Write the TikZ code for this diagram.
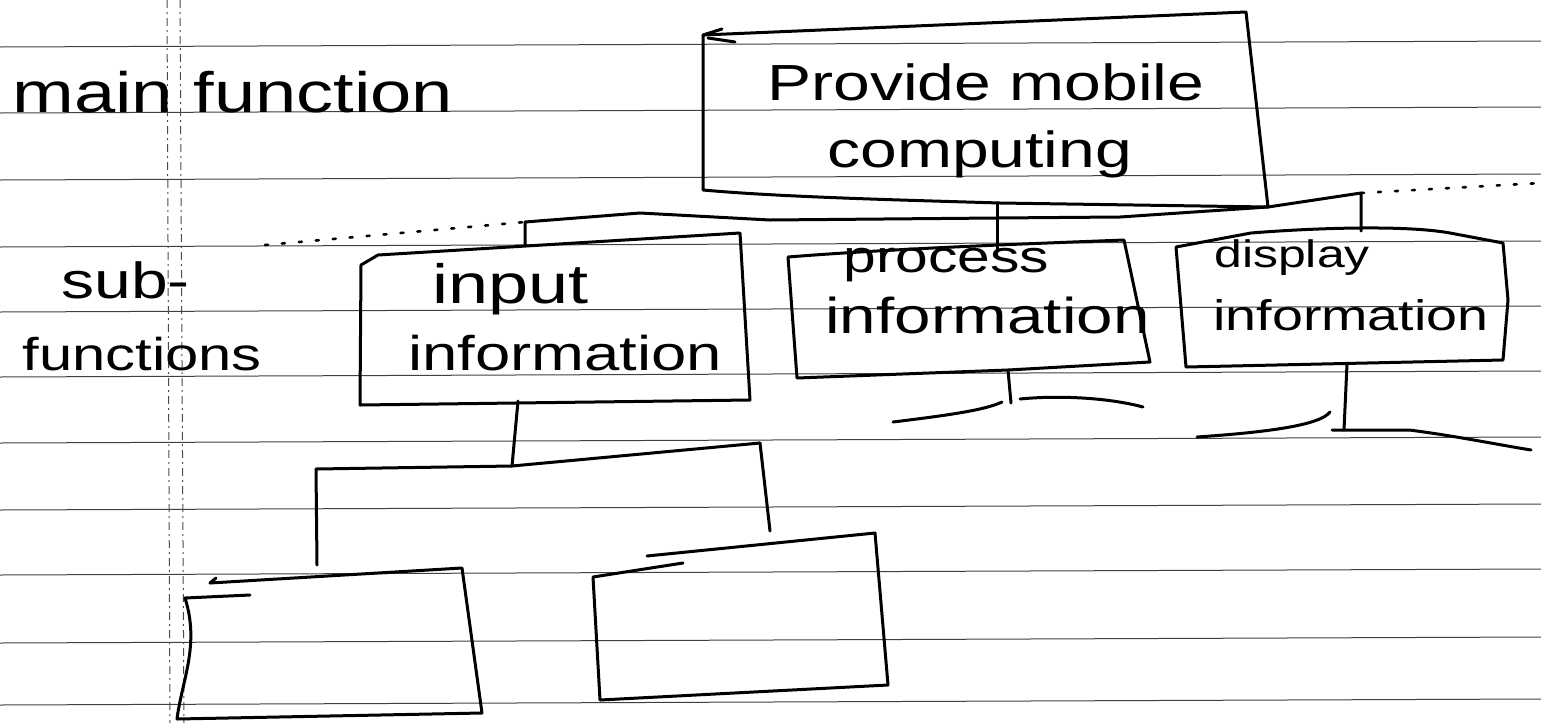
\documentclass[tikz,border=0pt]{standalone}
\usepackage{fontspec}
\setmainfont{Liberation Sans}[FakeStretch=1.3]
\begin{document}
\begin{tikzpicture}[x=0.5pt,y=-0.5pt,
  rule/.style={line width=0.5pt, black!75},
  margin/.style={line width=0.5pt, black!70, dash pattern=on 4pt off 2pt on 1pt off 2pt},
  boxline/.style={line width=1.5pt, line join=round, line cap=round},
  wire/.style={line width=1.5pt, line join=round, line cap=round},
  dotline/.style={line width=1.3pt, dash pattern=on 1.5pt off 7pt, line cap=round},
  hw/.style={anchor=base west, inner sep=0pt, font=\fontsize{#1}{#1}\selectfont},
]
\useasboundingbox (0,0) rectangle (1541,723);
% ruled paper
\foreach \y in {47,113,180,247,312,377,443,510,575,643,705}
  \draw[rule] (0,\y) -- (1541,\y-6);
\draw[margin] (167,0) -- (170,723);
\draw[margin] (180,0) -- (184,723);

% ---- box corners
\coordinate (mTL) at (703,35); \coordinate (mTR) at (1246,12);
\coordinate (mBR) at (1268,207); \coordinate (mBL) at (703,190);
\coordinate (iTL) at (361,265); \coordinate (iTR) at (740,233);
\coordinate (iBR) at (750,400); \coordinate (iBL) at (360,405);
\coordinate (pTL) at (788,257); \coordinate (pTR) at (1124,240);
\coordinate (pBR) at (1150,362); \coordinate (pBL) at (797,378);
\coordinate (dTL) at (1176,247); \coordinate (dTR) at (1503,243);
\coordinate (dBR) at (1503,360); \coordinate (dBL) at (1186,367);
\coordinate (aTL) at (210,583); \coordinate (aTR) at (462,568);
\coordinate (aBR) at (482,713); \coordinate (aBL) at (177,719);
\coordinate (bTL) at (593,577); \coordinate (bTR) at (875,533);
\coordinate (bBR) at (888,685); \coordinate (bBL) at (600,700);

% main box
\draw[boxline] (mTR) -- (mTL) -- (mBL) .. controls (780,197) and (900,200) .. (1000,203) -- (mBR) -- cycle;
\draw[boxline] (mTL) -- (722,29) (708,38) -- (735,42);
% input information box
\draw[boxline] (iTL) -- (378,255) -- (iTR) -- (iBR) -- (iBL) -- cycle;
% process information box
\draw[boxline] (pTL) .. controls (900,248) and (1050,243) .. (pTR) -- (pBR) -- (1008,370) -- (pBL) -- cycle;
% display information box
\draw[boxline] (dTL) -- (1251,233) .. controls (1300,229) and (1400,224) .. (1450,233) -- (dTR) -- (1508,300) -- (dBR) -- (dBL) -- cycle;
% bottom left box
\draw[boxline] (aTL) -- (aTR) -- (aBR) -- (aBL) .. controls (182,680) and (200,645) .. (185,598) -- (250,595);
\draw[boxline] (aTL) -- (216,578);
% bottom middle box
\draw[boxline] (683,563) -- (bTL) -- (bBL) -- (bBR) -- (bTR) -- (647,556);

% texts
\node[hw=28.5] (tmain) at (12,112) {main function};
\node[hw=25.4] (tsub) at (61,298) {sub-};
\node[hw=23] (tfun) at (22,370) {functions};
\node[hw=25.4] (tpm) at (767,100) {Provide mobile};
\node[hw=25.4] (tcomp) at (827,167) {computing};
\node[hw=27.7] (tinp) at (432,303) {input};
\node[hw=24.4] (tinf1) at (408,370) {information};
\node[hw=22.6] (tproc) at (843,272) {process};
\node[hw=25.2] (tinf2) at (825,333) {information};
\node[hw=19.2] (tdisp) at (1214,267) {display};
\node[hw=21.4] (tinf3) at (1213,330) {information};

% top level bus
\coordinate (inpTop) at (525,245);
\coordinate (busL) at (525,222);
\coordinate (busA) at (640,213);
\coordinate (busB) at (770,220);
\coordinate (busM) at (997,218);
\coordinate (busC) at (1120,217);
\coordinate (busR) at (1361,193);
\coordinate (mainBot) at (997,203);
\coordinate (procTop) at (997,250);
\coordinate (dispTop) at (1361,231);
\coordinate (dotL) at (265,245);
\coordinate (dotR) at (1541,183);
\draw[wire] (inpTop) -- (busL) -- (busA) -- (busB) -- (busM) -- (busC) -- (mBR) -- (busR) -- (dispTop);
\draw[wire] (mainBot) -- (busM) -- (procTop);
\draw[dotline] (dotL) -- (busL);
\draw[dotline] (busR) -- (dotR);

% under process
\coordinate (pT) at (1008,370);
\coordinate (pS) at (1011,403);
\coordinate (pA) at (893,422);
\coordinate (pB) at (1002,402);
\coordinate (pC) at (1020,399);
\coordinate (pD) at (1143,407);
\draw[wire] (pT) -- (pS);
\draw[wire] (pA) .. controls (950,415) and (985,410) .. (pB);
\draw[wire] (pC) .. controls (1060,395) and (1110,398) .. (pD);

% under display
\coordinate (dT) at (1347,364);
\coordinate (dS) at (1344,430);
\coordinate (dA) at (1197,437);
\coordinate (dB) at (1330,412);
\coordinate (dC) at (1332,430);
\coordinate (dD) at (1409,430);
\coordinate (dE) at (1531,450);
\draw[wire] (dT) -- (dS);
\draw[wire] (dA) .. controls (1270,432) and (1320,425) .. (dB);
\draw[wire] (dC) -- (dD) .. controls (1450,435) and (1500,445) .. (dE);

% under input
\coordinate (iT) at (518,401);
\coordinate (iJ) at (512,466);
\coordinate (iL) at (316,469);
\coordinate (iR) at (760,443);
\coordinate (aTop) at (317,565);
\coordinate (bTop) at (770,531);
\draw[wire] (iT) -- (iJ);
\draw[wire] (iL) -- (iJ) -- (iR);
\draw[wire] (iL) -- (aTop);
\draw[wire] (iR) -- (bTop);
\end{tikzpicture}
\end{document}
